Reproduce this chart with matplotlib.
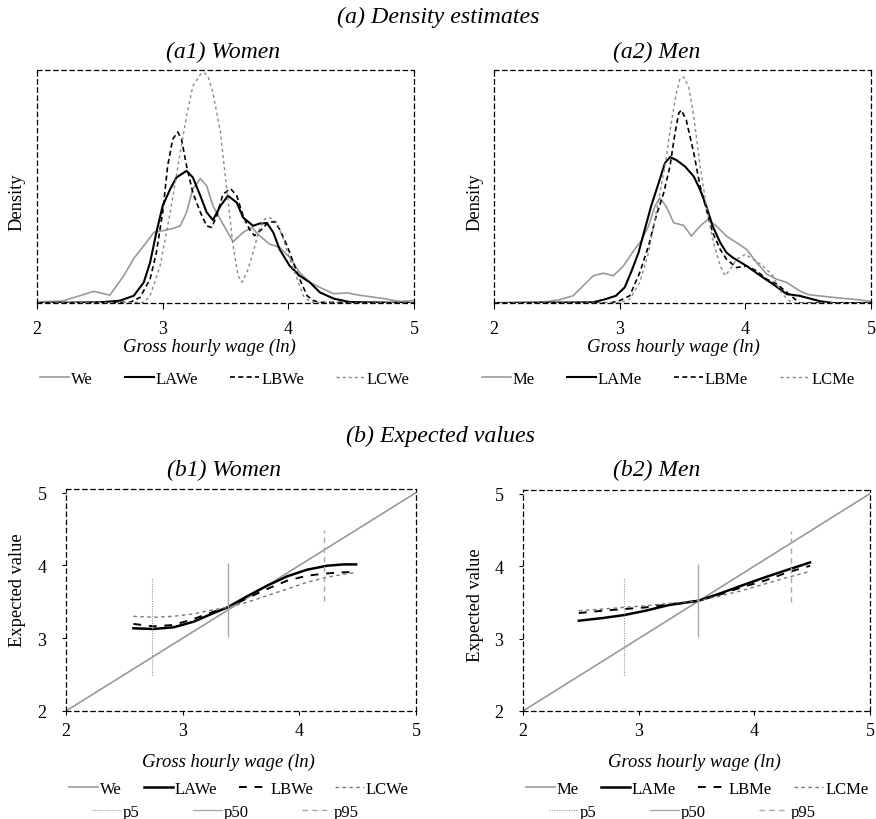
import numpy as np
import matplotlib.pyplot as plt
from matplotlib.lines import Line2D

plt.rcParams['font.family'] = ['Liberation Serif', 'DejaVu Serif']

# ---- (a) density estimates, women ----
we_x = [2.0, 2.2, 2.34, 2.45, 2.58, 2.69, 2.77, 2.85, 2.93, 3.0, 3.08, 3.14, 3.19, 3.24, 3.30, 3.35,
        3.40, 3.48, 3.56, 3.64, 3.71, 3.77, 3.85, 3.93, 4.01, 4.09, 4.17, 4.25, 4.36, 4.47, 4.57,
        4.76, 4.89, 5.0]
we_y = [0.005, 0.008, 0.031, 0.05, 0.034, 0.117, 0.191, 0.246, 0.303, 0.31, 0.32, 0.331, 0.389, 0.489,
        0.534, 0.503, 0.417, 0.339, 0.263, 0.303, 0.324, 0.289, 0.253, 0.239, 0.196, 0.131, 0.089,
        0.067, 0.04, 0.043, 0.033, 0.019, 0.006, 0.011]
lawe_x = [2.0, 2.5, 2.66, 2.77, 2.85, 2.90, 2.95, 3.0, 3.06, 3.11, 3.19, 3.24, 3.30, 3.35, 3.40, 3.46,
          3.52, 3.59, 3.64, 3.72, 3.77, 3.83, 3.88, 3.93, 4.01, 4.09, 4.17, 4.25, 4.36, 4.49, 5.0]
lawe_y = [0.0, 0.003, 0.01, 0.031, 0.089, 0.174, 0.303, 0.417, 0.489, 0.539, 0.567, 0.539, 0.46, 0.389,
          0.356, 0.417, 0.46, 0.431, 0.367, 0.331, 0.341, 0.343, 0.303, 0.231, 0.16, 0.117, 0.089,
          0.046, 0.019, 0.004, 0.0]
lbwe_x = [2.0, 2.74, 2.82, 2.90, 2.95, 3.0, 3.04, 3.08, 3.12, 3.15, 3.19, 3.24, 3.30, 3.35, 3.39, 3.43,
          3.48, 3.54, 3.59, 3.64, 3.69, 3.73, 3.79, 3.84, 3.89, 3.93, 3.99, 4.04, 4.09, 4.15, 4.20,
          4.25, 5.0]
lbwe_y = [0.0, 0.003, 0.024, 0.103, 0.217, 0.389, 0.589, 0.703, 0.734, 0.703, 0.589, 0.474, 0.389,
          0.331, 0.324, 0.374, 0.467, 0.491, 0.46, 0.374, 0.317, 0.289, 0.317, 0.346, 0.349, 0.317,
          0.246, 0.174, 0.103, 0.031, 0.01, 0.003, 0.0]
lcwe_x = [2.0, 2.85, 2.90, 2.98, 3.06, 3.14, 3.19, 3.24, 3.30, 3.33, 3.36, 3.40, 3.46, 3.51, 3.56, 3.60,
          3.63, 3.67, 3.72, 3.77, 3.81, 3.85, 3.91, 3.96, 4.01, 4.07, 4.12, 4.17, 4.25, 5.0]
lcwe_y = [0.0, 0.003, 0.031, 0.16, 0.389, 0.646, 0.803, 0.931, 0.981, 0.989, 0.974, 0.903, 0.731,
          0.489, 0.246, 0.117, 0.089, 0.131, 0.217, 0.317, 0.36, 0.367, 0.346, 0.274, 0.189, 0.103,
          0.031, 0.006, 0.0, 0.0]

# ---- (a) density estimates, men ----
me_x = [2.0, 2.4, 2.52, 2.63, 2.71, 2.79, 2.87, 2.95, 3.03, 3.11, 3.17, 3.23, 3.28, 3.32, 3.37, 3.43,
        3.51, 3.57, 3.64, 3.70, 3.77, 3.85, 3.93, 4.01, 4.09, 4.17, 4.25, 4.33, 4.43, 4.5, 4.7, 4.9, 5.0]
me_y = [0.0, 0.004, 0.014, 0.031, 0.074, 0.117, 0.128, 0.117, 0.159, 0.223, 0.266, 0.33, 0.415, 0.451,
        0.415, 0.344, 0.333, 0.287, 0.33, 0.358, 0.33, 0.287, 0.259, 0.23, 0.174, 0.124, 0.102, 0.088,
        0.053, 0.036, 0.024, 0.014, 0.007]
lame_x = [2.0, 2.79, 2.89, 2.97, 3.04, 3.09, 3.15, 3.20, 3.25, 3.31, 3.36, 3.40, 3.45, 3.52, 3.59, 3.64,
          3.69, 3.74, 3.80, 3.85, 3.90, 4.01, 4.12, 4.22, 4.33, 4.43, 4.6, 4.7, 5.0]
lame_y = [0.0, 0.003, 0.017, 0.031, 0.067, 0.131, 0.216, 0.316, 0.415, 0.515, 0.6, 0.626, 0.614, 0.586,
          0.543, 0.486, 0.415, 0.33, 0.259, 0.216, 0.195, 0.159, 0.117, 0.081, 0.038, 0.031, 0.007,
          0.0, 0.0]
lbme_x = [2.0, 2.92, 3.0, 3.08, 3.16, 3.23, 3.29, 3.35, 3.40, 3.44, 3.47, 3.49, 3.53, 3.59, 3.64, 3.69,
          3.74, 3.80, 3.85, 3.93, 4.01, 4.09, 4.17, 4.25, 4.33, 4.41, 4.43, 5.0]
lbme_y = [0.0, 0.0, 0.01, 0.031, 0.131, 0.245, 0.373, 0.472, 0.586, 0.728, 0.814, 0.828, 0.785, 0.643,
          0.501, 0.401, 0.302, 0.23, 0.188, 0.152, 0.159, 0.138, 0.102, 0.081, 0.046, 0.01, 0.0, 0.0]
lcme_x = [2.0, 3.0, 3.08, 3.16, 3.23, 3.29, 3.36, 3.41, 3.45, 3.48, 3.51, 3.55, 3.59, 3.64, 3.69, 3.74,
          3.80, 3.84, 3.88, 3.93, 4.00, 4.06, 4.14, 4.22, 4.27, 4.33, 4.38, 5.0]
lcme_y = [0.0, 0.0, 0.017, 0.088, 0.216, 0.387, 0.586, 0.771, 0.899, 0.963, 0.97, 0.927, 0.8, 0.586,
          0.415, 0.273, 0.159, 0.117, 0.145, 0.188, 0.209, 0.188, 0.159, 0.117, 0.06, 0.017, 0.0, 0.0]

# ---- (b) expected values ----
ew_x = [2.578, 2.75, 2.922, 3.094, 3.265, 3.385, 3.551, 3.723, 3.895, 4.066, 4.238, 4.381, 4.487]
lawe_e = [3.136, 3.127, 3.15, 3.227, 3.346, 3.424, 3.575, 3.721, 3.85, 3.941, 3.996, 4.014, 4.014]
lbwe_e = [3.196, 3.163, 3.182, 3.264, 3.365, 3.424, 3.548, 3.676, 3.79, 3.859, 3.891, 3.905, 3.912]
lcwe_e = [3.301, 3.287, 3.301, 3.333, 3.392, 3.424, 3.493, 3.585, 3.676, 3.768, 3.837, 3.88, 3.9]
em_x = [2.483, 2.689, 2.874, 3.06, 3.26, 3.517, 3.689, 3.888, 4.088, 4.288, 4.482]
lame_e = [3.246, 3.283, 3.324, 3.384, 3.462, 3.522, 3.614, 3.729, 3.843, 3.949, 4.05]
lbme_e = [3.352, 3.384, 3.407, 3.43, 3.471, 3.522, 3.6, 3.706, 3.798, 3.913, 4.004]
lcme_e = [3.384, 3.407, 3.43, 3.453, 3.485, 3.522, 3.582, 3.66, 3.752, 3.844, 3.927]

pct_women = [2.74, 3.385, 4.215]    # p5, p50, p95
pct_men = [2.871, 3.517, 4.316]
pct_low = [2.5, 3.02, 3.51]
pct_high = [3.83, 4.03, 4.49]
pct_names = ['p5', 'p50', 'p95']

W, H = 876, 820


def fx(px):
    return px / W


def fy(py):
    return 1 - py / H


def box(l, t, r, b):
    return [fx(l), fy(b), (r - l) / W, (b - t) / H]


GRAY = '#999999'
dens_st = [dict(color=GRAY, lw=1.2, ls='-'),
           dict(color='black', lw=1.5, ls='-'),
           dict(color='black', lw=1.2, ls=(0, (3, 2))),
           dict(color='#8a8a8a', lw=1.0, ls=(0, (2.2, 2.2)))]
exp_st = [dict(color=GRAY, lw=1.2, ls='-'),
          dict(color='black', lw=1.8, ls='-'),
          dict(color='black', lw=1.4, ls=(0, (4, 4))),
          dict(color='#777777', lw=1.0, ls=(0, (2.5, 2.5)))]
pct_st = [dict(color='#999999', lw=0.8, ls=(0, (1, 1.2))),
          dict(color='#aaaaaa', lw=1.0, ls='-'),
          dict(color='#aaaaaa', lw=1.0, ls=(0, (4, 3)))]

fig = plt.figure(figsize=(W / 100, H / 100), dpi=100)


def style_axes(ax, yticks):
    for sp in ax.spines.values():
        sp.set_linestyle((0, (3.5, 3)))
        sp.set_linewidth(0.9)
        sp.set_color('black')
    ax.set_xlim(2, 5)
    ax.set_xticks([2, 3, 4, 5])
    if yticks:
        ax.set_yticks([2, 3, 4, 5])
        ax.tick_params(axis='x', direction='out', length=3, width=0.8, pad=5, labelsize=13)
        ax.tick_params(axis='y', direction='out', length=3, width=0.8, pad=11, labelsize=13)
    else:
        ax.set_yticks([])
        ax.tick_params(axis='x', direction='out', length=4, width=0.8, pad=8, labelsize=13)


def legend_row(labels, styles, cx, cy, spacing):
    handles = [Line2D([], [], **s) for s in styles]
    fig.legend(handles, labels, loc='center', bbox_to_anchor=(fx(cx), fy(cy)), ncol=len(labels),
               frameon=False, fontsize=12, handlelength=1.75, handletextpad=0.12,
               columnspacing=spacing, borderpad=0, borderaxespad=0)


# density panels
dens = [
    ([(we_x, we_y), (lawe_x, lawe_y), (lbwe_x, lbwe_y), (lcwe_x, lcwe_y)],
     ['We', 'LAWe', 'LBWe', 'LCWe'], box(37, 71, 414, 304), '(a1) Women', 223, 209, 17, 225),
    ([(me_x, me_y), (lame_x, lame_y), (lbme_x, lbme_y), (lcme_x, lcme_y)],
     ['Me', 'LAMe', 'LBMe', 'LCMe'], box(494, 71, 871, 304), '(a2) Men', 657, 673, 475, 668),
]
for series, labels, rect, title, tx, lx, dx, legx in dens:
    ax = fig.add_axes(rect)
    for (x, y), st in zip(series, dens_st):
        ax.plot(x, y, **st)
    ax.set_ylim(0, 1.0)
    style_axes(ax, False)
    fig.text(fx(tx), fy(52), title, ha='center', va='center', fontsize=17, style='italic')
    fig.text(fx(lx), fy(347), 'Gross hourly wage (ln)', ha='center', va='center', fontsize=13.4,
             style='italic')
    fig.text(fx(dx), fy(202), 'Density', ha='center', va='center', fontsize=13.3, rotation=90)
    legend_row(labels, dens_st, legx, 380, 1.9)

# expected value panels
exps = [
    (ew_x, [lawe_e, lbwe_e, lcwe_e], pct_women, ['We', 'LAWe', 'LBWe', 'LCWe'],
     box(66, 490, 416, 712), '(b1) Women', 224, 228, 18, 590, 239, 225),
    (em_x, [lame_e, lbme_e, lcme_e], pct_men, ['Me', 'LAMe', 'LBMe', 'LCMe'],
     box(523, 491, 870, 712), '(b2) Men', 657, 694, 475, 605, 697, 682),
]
for x, curves, pct, labels, rect, title, tx, lx, dx, dy, leg1, leg2 in exps:
    ax = fig.add_axes(rect)
    ax.plot([2, 5.05], [2, 5.05], **exp_st[0])
    for y, st in zip(curves, exp_st[1:]):
        ax.plot(x, y, **st)
    for p, lo, hi, st in zip(pct, pct_low, pct_high, pct_st):
        ax.vlines(p, lo, hi, colors=st['color'], linewidth=st['lw'], linestyles=[st['ls']])
    ax.set_ylim(2, 5.05)
    style_axes(ax, True)
    fig.text(fx(tx), fy(470), title, ha='center', va='center', fontsize=17, style='italic')
    fig.text(fx(lx), fy(762), 'Gross hourly wage (ln)', ha='center', va='center', fontsize=13.4,
             style='italic')
    fig.text(fx(dx), fy(dy), 'Expected value', ha='center', va='center', fontsize=13.3, rotation=90)
    legend_row(labels, exp_st, leg1, 790, 1.3)
    legend_row(pct_names, pct_st, leg2, 813, 3.2)

fig.text(0.5, fy(17), '(a) Density estimates', ha='center', va='center', fontsize=17.3,
         style='italic')
fig.text(fx(440), fy(436), '(b) Expected values', ha='center', va='center', fontsize=17.3,
         style='italic')

fig.savefig('out.png', dpi=100)
